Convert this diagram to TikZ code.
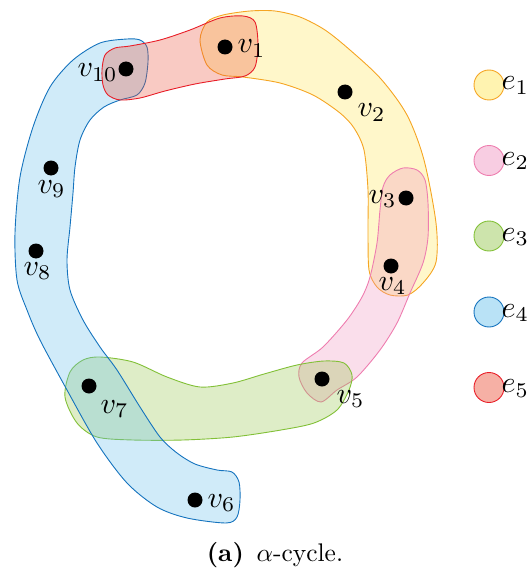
\documentclass[tikz,border=0pt]{standalone}
\definecolor{yb}{RGB}{245,165,35}
\definecolor{yf}{RGB}{255,228,80}
\definecolor{pb}{RGB}{238,125,175}
\definecolor{pf}{RGB}{240,145,190}
\definecolor{gb}{RGB}{130,192,55}
\definecolor{gf}{RGB}{145,195,70}
\definecolor{bb}{RGB}{20,115,190}
\definecolor{bf}{RGB}{100,190,235}
\definecolor{rb}{RGB}{232,30,40}
\definecolor{rf}{RGB}{235,80,55}
\tikzset{
  hedge/.style={line width=0.9pt, fill opacity=0.3},
  vtx/.style={circle, fill=black, inner sep=0pt, minimum size=15pt},
  lbl/.style={inner sep=0pt, scale=3},
  leg/.style={circle, line width=0.9pt, fill opacity=0.45, minimum size=30pt, inner sep=0pt},
}
\begin{document}
\begin{tikzpicture}[x=1pt,y=-1pt]
\useasboundingbox (0,0) rectangle (528,575);
% e1
\draw[hedge, draw=yb, fill=yf] plot[smooth cycle, tension=0.5] coordinates {
 (200,40) (207,22) (223,15) (250,11) (275,11) (300,17) (325,30) (350,50) (381,79) (407,115) (424,160) (436,223) (436,262) (423,283) (408,295) (390,295) (377,287) (369,270) (368,230) (368,190) (364,150) (354,128) (340,113) (313,95) (280,83) (243,77) (222,75) (207,65)};
% e2
\draw[hedge, draw=pb, fill=pf] plot[smooth cycle, tension=0.5] coordinates {
 (302,363) (323,347) (347,320) (362,297) (370,277) (377,243) (380,210) (383,187) (390,175) (403,168) (417,170) (425,180) (428,203) (428,237) (423,263) (410,293) (397,323) (380,350) (357,377) (337,390) (321,402) (307,393) (299,377)};
% e3
\draw[hedge, draw=gb, fill=gf] plot[smooth cycle, tension=0.5] coordinates {
 (70,372) (83,360) (100,357) (133,362) (167,377) (200,387) (233,383) (264,374) (297,365) (324,361) (344,363) (352,375) (349,390) (337,410) (314,423) (281,430) (233,437) (183,440) (133,440) (97,437) (77,423) (65,397)};
% e4
\draw[hedge, draw=bb, fill=bf] plot[smooth cycle, tension=0.5] coordinates {
 (140,40) (147,47) (148,62) (145,83) (137,95) (120,100) (104,107) (90,120) (80,140) (75,167) (73,193) (70,227) (67,260) (70,290) (83,320) (100,347) (117,370) (140,407) (160,437) (177,453) (195,464) (217,470) (232,472) (239,482) (240,500) (237,517) (226,523) (187,518) (157,507) (127,483) (97,443) (67,390) (40,340) (27,310) (17,280) (15,233) (20,177) (33,127) (50,87) (73,60) (100,43) (127,39)};
% e5
\draw[hedge, draw=rb, fill=rf] plot[smooth cycle, tension=0.5] coordinates {
 (102,70) (105,55) (115,48) (130,46) (160,40) (190,30) (220,18) (243,16) (255,22) (258,45) (255,67) (245,76) (225,79) (195,84) (165,91) (140,98) (120,100) (108,95) (103,85)};
% vertices
\node[vtx] (v1) at (225,47) {};
\node[vtx] (v2) at (345,92) {};
\node[vtx] (v3) at (406,198) {};
\node[vtx] (v4) at (391,266) {};
\node[vtx] (v5) at (322,379) {};
\node[vtx] (v6) at (195,500) {};
\node[vtx] (v7) at (89,386) {};
\node[vtx] (v8) at (36,251) {};
\node[vtx] (v9) at (51,168) {};
\node[vtx] (v10) at (126,69) {};
\node[lbl, anchor=base west] (l1) at (237,53) {$v_1$};
\node[lbl, anchor=base west] (l2) at (357,117) {$v_2$};
\node[lbl, anchor=base west] (l3) at (368,203) {$v_3$};
\node[lbl, anchor=base west] (l4) at (378,290) {$v_4$};
\node[lbl, anchor=base west] (l5) at (336,403) {$v_5$};
\node[lbl, anchor=base west] (l6) at (207,507) {$v_6$};
\node[lbl, anchor=base west] (l7) at (100,413) {$v_7$};
\node[lbl, anchor=base west] (l8) at (23,275) {$v_8$};
\node[lbl, anchor=base west] (l9) at (37,193) {$v_9$};
\node[lbl, anchor=base west] (l10) at (77,77) {$v_{10}$};
% legend
\node[leg, draw=yb, fill=yf] (c1) at (489,85) {};
\node[leg, draw=pb, fill=pf] (c2) at (489,160.5) {};
\node[leg, draw=gb, fill=gf] (c3) at (489,236) {};
\node[leg, draw=bb, fill=bf] (c4) at (489,312) {};
\node[leg, draw=rb, fill=rf] (c5) at (489,387.5) {};
\node[lbl, anchor=base west] (le1) at (501,90) {$e_1$};
\node[lbl, anchor=base west] (le2) at (501,165.5) {$e_2$};
\node[lbl, anchor=base west] (le3) at (501,241) {$e_3$};
\node[lbl, anchor=base west] (le4) at (501,317) {$e_4$};
\node[lbl, anchor=base west] (le5) at (501,392.5) {$e_5$};
\node[inner sep=0pt, scale=2.55, anchor=base] (cap) at (275,561) {\textbf{(a)}\hspace{0.5em}$\alpha$-cycle.};
\end{tikzpicture}
\end{document}
